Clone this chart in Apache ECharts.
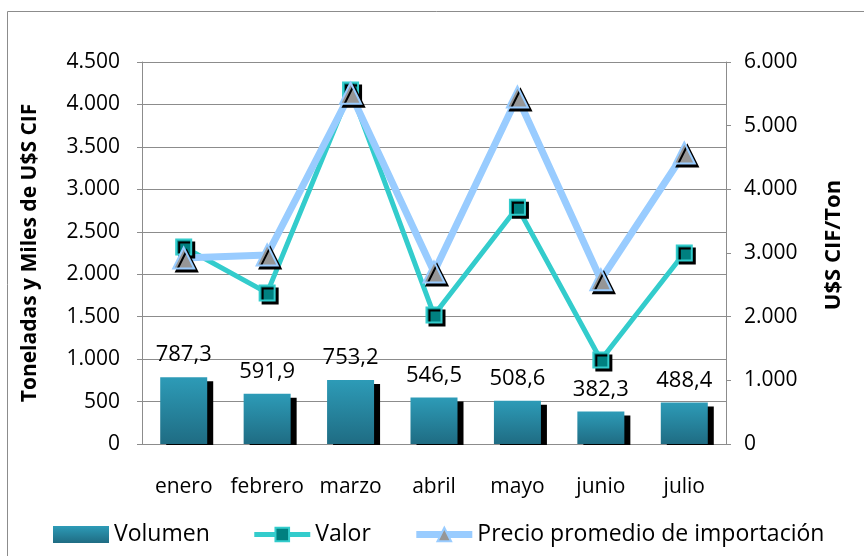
<!DOCTYPE html>
<html>
<head>
<meta charset="utf-8">
<script src="https://cdn.jsdelivr.net/npm/echarts@6/dist/echarts.min.js"></script>
<style>
  html, body { margin: 0; padding: 0; background: #fff; }
  #chart { width: 864px; height: 556px; }
</style>
</head>
<body>
<div id="chart"></div>
<script>
// datos
const meses = ['enero', 'febrero', 'marzo', 'abril', 'mayo', 'junio', 'julio']
const volumen = [787.3, 591.9, 753.2, 546.5, 508.6, 382.3, 488.4]
const valor = [2320, 1780, 4170, 1520, 2790, 990, 2250]
const precio = [2920, 2970, 5510, 2700, 5450, 2580, 4570]

const FONT = 'Open Sans'
const fmtMiles = v => String(v).replace(/\B(?=(\d{3})+(?!\d))/g, '.')

const chart = echarts.init(document.getElementById('chart'))
chart.setOption({
  animation: false,
  textStyle: { fontFamily: FONT },
  graphic: [
    {
      type: 'rect',
      shape: { x: 7.5, y: 11.5, width: 900, height: 600 },
      style: { fill: 'none', stroke: '#8c8c8c', lineWidth: 1 },
      silent: true
    },
    {
      // tapa la sombra de las barras bajo el eje
      type: 'rect',
      z: 100,
      shape: { x: 143, y: 445, width: 582, height: 6 },
      style: { fill: '#fff' },
      silent: true
    },
    {
      type: 'text',
      x: 30, y: 253, rotation: Math.PI / 2,
      style: {
        text: 'Toneladas y Miles de U$S CIF',
        font: 'bold 21px "Open Sans"',
        fill: '#000', align: 'center', verticalAlign: 'middle'
      }
    },
    {
      type: 'text',
      x: 834, y: 245, rotation: Math.PI / 2,
      style: {
        text: 'U$S CIF/Ton',
        font: 'bold 22px "Open Sans"',
        fill: '#000', align: 'center', verticalAlign: 'middle'
      }
    }
  ],
  grid: { left: 142, right: 138, top: 62, bottom: 112 },
  legend: {
    left: 48,
    top: 518,
    itemWidth: 56,
    itemHeight: 17,
    itemGap: 42,
    textStyle: { fontSize: 23, color: '#000', fontFamily: FONT },
    data: [
      { name: 'Volumen', icon: 'rect' },
      { name: 'Valor', lineStyle: { width: 5 } },
      { name: 'Precio promedio de importación', lineStyle: { width: 7 } }
    ]
  },
  xAxis: {
    type: 'category',
    data: meses,
    axisLine: { lineStyle: { color: '#8c8c8c' } },
    axisTick: { show: false },
    axisLabel: { color: '#000', fontSize: 21, margin: 33, interval: 0 }
  },
  yAxis: [
    {
      type: 'value',
      min: 0, max: 4500, interval: 500,
      axisLine: { show: true, lineStyle: { color: '#8c8c8c' } },
      axisTick: { show: true, length: 5, lineStyle: { color: '#8c8c8c' } },
      splitLine: { lineStyle: { color: '#8c8c8c' } },
      axisLabel: { color: '#000', fontSize: 21, margin: 22, formatter: fmtMiles }
    },
    {
      type: 'value',
      min: 0, max: 6000, interval: 1000,
      axisLine: { show: true, lineStyle: { color: '#8c8c8c' } },
      axisTick: { show: true, length: 5, lineStyle: { color: '#8c8c8c' } },
      splitLine: { show: false },
      axisLabel: { color: '#000', fontSize: 21, margin: 18, formatter: fmtMiles }
    }
  ],
  series: [
    {
      name: 'Volumen',
      type: 'bar',
      data: volumen,
      barWidth: 47,
      itemStyle: {
        color: new echarts.graphic.LinearGradient(0, 0, 0, 1, [
          { offset: 0, color: '#2d9bb7' },
          { offset: 1, color: '#1f6c83' }
        ]),
        shadowColor: '#000',
        shadowOffsetX: 6,
        shadowOffsetY: 4,
        shadowBlur: 0
      },
      label: {
        show: true,
        position: 'top',
        distance: 11,
        color: '#000',
        fontSize: 22,
        formatter: p => p.value.toFixed(1).replace('.', ',')
      }
    },
    {
      name: 'Valor',
      type: 'line',
      data: valor,
      symbol: 'rect',
      symbolSize: 15,
      lineStyle: { color: '#33cccc', width: 5 },
      itemStyle: {
        color: '#008080',
        borderColor: '#33cccc',
        borderWidth: 2,
        shadowColor: '#000',
        shadowOffsetX: 3,
        shadowOffsetY: 3
      }
    },
    {
      name: 'Precio promedio de importación',
      type: 'line',
      yAxisIndex: 1,
      data: precio,
      symbol: 'triangle',
      symbolSize: 21,
      lineStyle: { color: '#99ccff', width: 7 },
      itemStyle: {
        color: '#969696',
        borderColor: '#99ccff',
        borderWidth: 2,
        shadowColor: '#000',
        shadowOffsetX: 3,
        shadowOffsetY: 3
      }
    }
  ]
})
</script>
</body>
</html>
